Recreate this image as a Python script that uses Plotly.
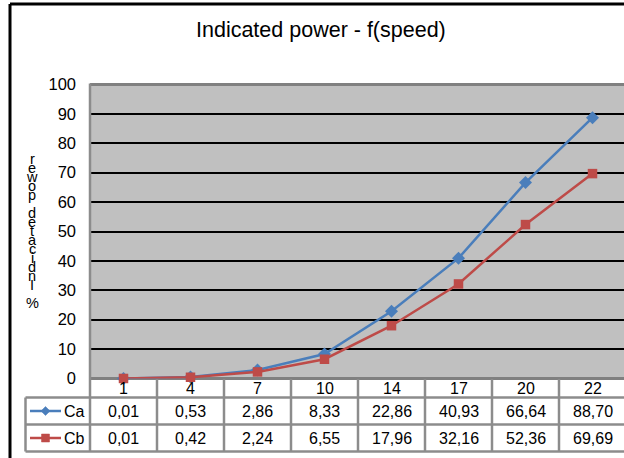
import plotly.graph_objects as go

speeds = ["1", "4", "7", "10", "14", "17", "20", "22"]
ca = [0.01, 0.53, 2.86, 8.33, 22.86, 40.93, 66.64, 88.70]
cb = [0.01, 0.42, 2.24, 6.55, 17.96, 32.16, 52.36, 69.69]
title_text = "Indicated power - f(speed)"
ytitle_chars = list("rewop detacidnI %")

W, H = 624, 458
FONT = "Liberation Sans, Arial, sans-serif"
BLUE = "#4A7EBB"
RED = "#BE4B48"
GRID = "#8C8C8C"


def px(x):
    return x / W


def py(y):
    return 1 - y / H


x_left, cell_w = 90, 67
n = len(speeds)
x_range = [-0.5, -0.5 + (W - x_left) / cell_w]
y_top, y_bot = 84.5, 378.5
row_header, row_ca, row_cb, row_end = 379, 397.5, 424.5, 451.5

fig = go.Figure()
fig.add_trace(go.Scatter(x=speeds, y=ca, mode="lines+markers", name="Ca",
                         line=dict(color=BLUE, width=2.5),
                         marker=dict(symbol="diamond", size=10, color=BLUE),
                         cliponaxis=False))
fig.add_trace(go.Scatter(x=speeds, y=cb, mode="lines+markers", name="Cb",
                         line=dict(color=RED, width=2.5),
                         marker=dict(symbol="square", size=9.5, color=RED),
                         cliponaxis=False))

shapes = []
# outer chart border (left & top)
shapes.append(dict(type="line", xref="paper", yref="paper", x0=px(10), x1=px(W + 5),
                   y0=py(4), y1=py(4), line=dict(color="black", width=3)))
shapes.append(dict(type="line", xref="paper", yref="paper", x0=px(10), x1=px(10),
                   y0=py(4), y1=py(H + 5), line=dict(color="black", width=3)))
# plot area border (top, left)
shapes.append(dict(type="line", xref="paper", yref="paper", x0=px(x_left), x1=px(W + 5),
                   y0=py(y_top), y1=py(y_top), line=dict(color="#808080", width=3), layer="above"))
shapes.append(dict(type="line", xref="paper", yref="paper", x0=px(x_left), x1=px(x_left),
                   y0=py(y_top - 1), y1=py(row_end), line=dict(color=GRID, width=2.5), layer="above"))
# table vertical separators
for k in range(1, n + 1):
    shapes.append(dict(type="line", xref="x", yref="paper", x0=k - 0.5, x1=k - 0.5,
                       y0=py(row_header), y1=py(row_end), line=dict(color=GRID, width=2.5)))
# legend cell left border
shapes.append(dict(type="line", xref="paper", yref="paper", x0=px(25.5), x1=px(25.5),
                   y0=py(row_ca), y1=py(row_end), line=dict(color=GRID, width=2.5)))
# table horizontal lines
for yy in (row_ca, row_cb, row_end):
    shapes.append(dict(type="line", xref="paper", yref="paper", x0=px(25.5), x1=px(W + 5),
                       y0=py(yy), y1=py(yy), line=dict(color=GRID, width=2.5)))

# legend keys in table
for (yy, col, sym) in ((411, BLUE, "diamond"), (438, RED, "square")):
    shapes.append(dict(type="line", xref="paper", yref="paper", x0=px(30), x1=px(61),
                       y0=py(yy), y1=py(yy), line=dict(color=col, width=2.5)))
    if sym == "diamond":
        path = (f"M {px(45.5)},{py(yy - 4.5)} L {px(50)},{py(yy)} "
                f"L {px(45.5)},{py(yy + 4.5)} L {px(41)},{py(yy)} Z")
        shapes.append(dict(type="path", xref="paper", yref="paper", path=path,
                           fillcolor=col, line=dict(color=col, width=0.5)))
    else:
        shapes.append(dict(type="rect", xref="paper", yref="paper", x0=px(41.5), x1=px(49.5),
                           y0=py(yy - 4), y1=py(yy + 4), fillcolor=col,
                           line=dict(color=col, width=0.5)))

annotations = []
annotations.append(dict(text=title_text, xref="paper", yref="paper", x=px(321), y=py(30),
                        showarrow=False, font=dict(size=21.5, color="black", family=FONT),
                        xanchor="center", yanchor="middle"))
# header row and data values
for i, s in enumerate(speeds):
    annotations.append(dict(text=s, xref="x", yref="paper", x=i, y=py(388.5), showarrow=False,
                            font=dict(size=16, color="black", family=FONT),
                            xanchor="center", yanchor="middle"))
    annotations.append(dict(text=f"{ca[i]:.2f}".replace(".", ","), xref="x", yref="paper",
                            x=i, y=py(411), showarrow=False,
                            font=dict(size=16, color="black", family=FONT),
                            xanchor="center", yanchor="middle"))
    annotations.append(dict(text=f"{cb[i]:.2f}".replace(".", ","), xref="x", yref="paper",
                            x=i, y=py(438), showarrow=False,
                            font=dict(size=16, color="black", family=FONT),
                            xanchor="center", yanchor="middle"))
for name, yy in (("Ca", 411), ("Cb", 438)):
    annotations.append(dict(text=name, xref="paper", yref="paper", x=px(62), y=py(yy),
                            showarrow=False, font=dict(size=16, color="black", family=FONT),
                            xanchor="left", yanchor="middle"))
# stacked y-axis title characters
for j, ch in enumerate(ytitle_chars):
    if ch == " ":
        continue
    annotations.append(dict(text=ch, xref="paper", yref="paper", x=px(32), y=py(159 + 9 * j),
                            showarrow=False, font=dict(size=14.5, color="black", family=FONT),
                            xanchor="center", yanchor="middle"))

fig.update_layout(
    width=W, height=H,
    margin=dict(l=0, r=0, t=0, b=0, pad=0, autoexpand=False),
    paper_bgcolor="white",
    plot_bgcolor="#C0C0C0",
    showlegend=False,
    shapes=shapes,
    annotations=annotations,
    xaxis=dict(domain=[px(x_left), 1], range=x_range, type="category", automargin=False,
               showgrid=False, showticklabels=False, zeroline=False, showline=False,
               fixedrange=True),
    yaxis=dict(domain=[py(y_bot), py(y_top)], range=[0, 100], tickvals=list(range(0, 101, 10)),
               automargin=False,
               showgrid=True, gridcolor="black", gridwidth=1.8,
               zeroline=True, zerolinecolor="#808080", zerolinewidth=3,
               ticks="", ticklabelstandoff=13,
               tickfont=dict(size=16.5, color="black", family=FONT), fixedrange=True),
)

fig.write_html("out.html")
